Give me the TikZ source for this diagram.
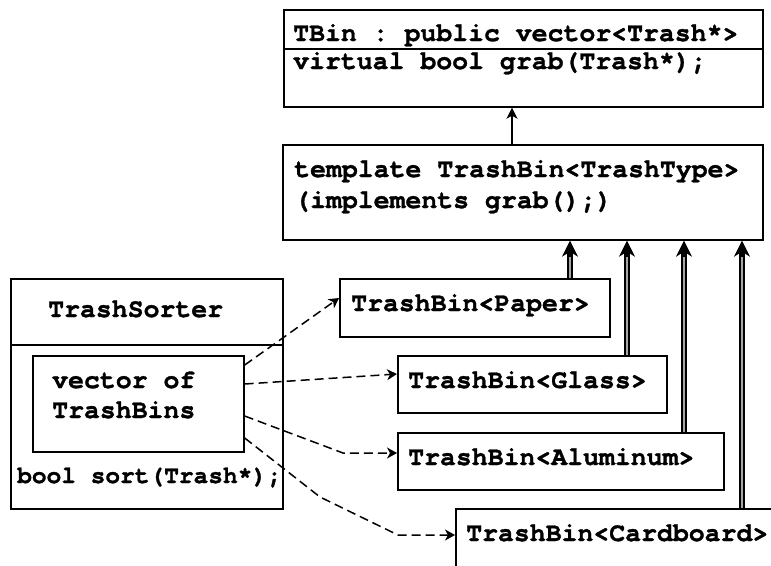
\documentclass[tikz,border=0pt]{standalone}
\usepackage{fontspec}
\setmonofont{texgyrecursor}[Extension=.otf, UprightFont=*-regular, BoldFont=*-bold, BoldFeatures={FakeBold=1.2}]
\usetikzlibrary{arrows.meta,calc}
\begin{document}
\begin{tikzpicture}[x=1pt,y=-1pt,
  box/.style={draw, line width=1.7pt, rectangle, inner sep=0pt, anchor=north west},
  txt/.style={font=\fontsize{26.5}{30}\selectfont\ttfamily\bfseries, anchor=base west, inner sep=0pt},
  smalltxt/.style={font=\fontsize{24.5}{28}\selectfont\ttfamily\bfseries, anchor=base west, inner sep=0pt},
  sep/.style={line width=1.7pt},
  arr/.style={line width=1.4pt, -{Stealth[length=11pt,width=11pt,inset=3pt]}},
  dbl/.style={line width=1.4pt, double=gray!70, double distance=2.6pt, shorten >=10pt},
  bigtip/.style={line width=1.4pt, -{Stealth[length=16pt,width=16pt,inset=5pt]}},
  dsh/.style={line width=1.5pt, dash pattern=on 9pt off 5pt, -{Stealth[length=10pt,width=11pt,inset=3pt]}}]
\useasboundingbox (0,0) rectangle (771,565);
\clip (0,0) rectangle (771,565);
\fill[white] (0,0) rectangle (771,565);
% boxes
\node[box, minimum width=479pt, minimum height=97pt] (tbin) at (283,9) {};
\node[box, minimum width=480pt, minimum height=95pt] (tpl) at (282,144) {};
\node[box, minimum width=272pt, minimum height=230pt] (sorter) at (10,278) {};
\node[box, minimum width=211pt, minimum height=96pt] (vec) at (32,355) {};
\node[box, minimum width=270pt, minimum height=58pt] (paper) at (339,278) {};
\node[box, minimum width=269pt, minimum height=57pt] (glass) at (397,355) {};
\node[box, minimum width=326pt, minimum height=57pt] (alu) at (397,432) {};
\node[box, minimum width=340pt, minimum height=80pt] (card) at (455,508) {};
% dividers
\draw[sep] (tbin.west |- 0,49) -- (tbin.east |- 0,49);
\draw[sep] (sorter.west |- 0,345) -- (sorter.east |- 0,345);
% texts
\node[txt] (t1) at (293,41) {TBin : public vector<Trash*>};
\node[txt] (t2) at (293,69) {virtual bool grab(Trash*);};
\node[txt] (t3) at (294,177) {template TrashBin<TrashType>};
\node[txt] (t4) at (294,208) {(implements grab();)};
\node[txt] (t5) at (48,317) {TrashSorter};
\node[txt] (t6) at (52,388) {vector of};
\node[txt] (t7) at (52,418) {TrashBins};
\node[smalltxt] (t8) at (17,483) {bool sort(Trash*);};
\node[txt] (t9) at (351,311) {TrashBin<Paper>};
\node[txt] (t10) at (408,388) {TrashBin<Glass>};
\node[txt] (t11) at (408,465) {TrashBin<Aluminum>};
\node[txt] (t12) at (466,541) {TrashBin<Cardboard>};
% inheritance
\draw[arr] (tpl.north -| 512,0) -- (tbin.south -| 512,0);
\foreach \b/\x in {paper/570, glass/627, alu/684, card/742}{
  \draw[dbl] (\b.north -| \x,0) -- (tpl.south -| \x,0);
  \draw[bigtip] ($(tpl.south -| \x,0)+(0,16)$) -- (tpl.south -| \x,0);
}
% dashed
\draw[dsh] (vec.east |- 0,365) -- (paper.west |- 0,298);
\draw[dsh] (vec.east |- 0,384) -- (glass.west |- 0,374);
\draw[dsh] (vec.east |- 0,416) -- (343,453) -- (alu.west |- 0,453);
\draw[dsh] (vec.east |- 0,438) -- (320,497) -- (398,535) -- (card.west |- 0,535);
\end{tikzpicture}
\end{document}
